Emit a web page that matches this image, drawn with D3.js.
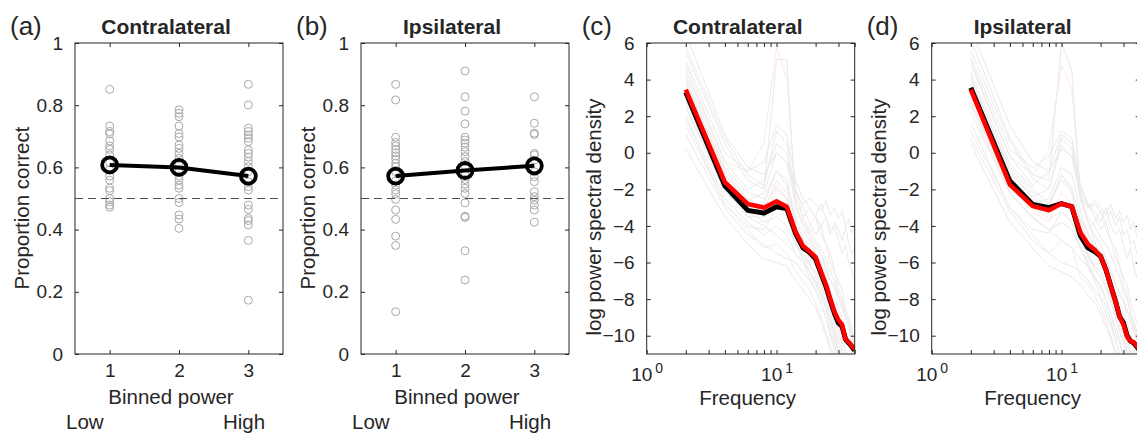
<!DOCTYPE html>
<html>
<head>
<meta charset="utf-8">
<script src="https://cdn.jsdelivr.net/npm/d3@7"></script>
<style>
  body { margin: 0; background: #fff; }
  text { font-family: "Liberation Sans", Arial, Helvetica, sans-serif; fill: #262626; }
</style>
</head>
<body>
<svg id="fig" width="1137" height="434"></svg>
<script>

      // ---- data ----
      var bins = [1, 2, 3];
      var binLabels = ["Low", "High"];

      var contraScatter = [
        [0.851, 0.733, 0.715, 0.708, 0.685, 0.669, 0.658, 0.640, 0.615, 0.592, 0.572, 0.559, 0.533, 0.525, 0.500, 0.490, 0.479, 0.472],
        [0.785, 0.774, 0.763, 0.733, 0.709, 0.698, 0.672, 0.661, 0.645, 0.629, 0.613, 0.586, 0.572, 0.559, 0.543, 0.533, 0.500, 0.487, 0.447, 0.434, 0.404],
        [0.867, 0.801, 0.726, 0.715, 0.704, 0.694, 0.683, 0.656, 0.645, 0.633, 0.619, 0.602, 0.586, 0.554, 0.538, 0.527, 0.479, 0.465, 0.436, 0.429, 0.415, 0.365, 0.173]
      ];
      var contraMean = [0.608, 0.600, 0.572];

      var ipsiScatter = [
        [0.867, 0.817, 0.697, 0.680, 0.669, 0.658, 0.647, 0.637, 0.626, 0.613, 0.602, 0.586, 0.557, 0.543, 0.527, 0.515, 0.497, 0.463, 0.433, 0.379, 0.349, 0.136],
        [0.910, 0.827, 0.781, 0.740, 0.697, 0.688, 0.678, 0.665, 0.651, 0.635, 0.619, 0.605, 0.576, 0.561, 0.546, 0.533, 0.516, 0.486, 0.443, 0.439, 0.332, 0.238],
        [0.827, 0.742, 0.710, 0.706, 0.645, 0.640, 0.624, 0.586, 0.570, 0.554, 0.522, 0.506, 0.495, 0.479, 0.463, 0.424]
      ];
      var ipsiMean = [0.572, 0.590, 0.605];

      var propTicks = [0, 0.2, 0.4, 0.6, 0.8, 1];
      var chance = 0.5;

      var freqs = [2, 4, 6, 8, 10, 12, 14, 16, 18, 20, 22, 24, 26, 28, 30, 32, 34, 36, 38, 40];
      var freqTicks = [1, 2, 3, 4, 5, 6, 7, 8, 9, 10, 20, 30, 40];
      var psdTicks = [-10, -8, -6, -4, -2, 0, 2, 4, 6];

      var contraBlack = [3.30, -1.80, -3.15, -3.30, -2.95, -3.05, -4.40, -5.20, -5.45, -5.80, -6.60, -7.30, -8.10, -8.80, -9.30, -9.50, -10.20, -10.40, -10.60, -10.80];
      var contraRed   = [3.45, -1.60, -2.80, -3.00, -2.65, -2.95, -4.30, -5.10, -5.40, -5.70, -6.50, -7.20, -8.00, -8.70, -9.15, -9.40, -10.20, -10.35, -10.55, -10.75];
      var ipsiBlack   = [3.55, -1.55, -2.83, -3.00, -2.78, -2.95, -4.55, -5.20, -5.40, -5.66, -6.40, -7.30, -8.10, -8.95, -9.30, -10.00, -10.30, -10.40, -10.60, -10.80];
      var ipsiRed     = [3.45, -1.74, -2.92, -3.14, -2.78, -2.95, -4.37, -5.00, -5.30, -5.66, -6.40, -7.30, -8.10, -8.95, -9.40, -10.05, -10.30, -10.35, -10.55, -10.75];

      // single subjects (faint)
      var contraGray = [
        [5.5, 0.5, -1.5, -2.0, 5.1, 5.1, -3.0, -4.0, -4.5, -5.0, -5.5, -6.5, -7.0, -7.5, -8.0, -8.5, -9.0, -9.5, -10.0, -10.5],
        [4.5, -0.5, -2.0, -1.5, 0.5, 0.0, -2.5, -3.5, -3.0, -3.5, -4.0, -3.5, -4.5, -3.8, -4.2, -4.8, -4.0, -5.0, -5.5, -5.2],
        [2.0, -2.5, -3.8, -4.5, -4.0, -4.5, -5.5, -6.0, -6.5, -7.0, -7.8, -8.5, -9.2, -10.0, -10.8, -11.5, -12.0, -12.5, -13.0, -13.5],
        [3.0, -1.5, -3.0, -2.8, -1.0, -1.5, -3.5, -4.8, -5.0, -5.5, -6.0, -6.8, -7.5, -8.0, -8.5, -9.0, -9.8, -10.2, -10.8, -11.2],
        [1.0, -3.0, -4.5, -5.0, -5.5, -5.8, -6.0, -6.5, -7.0, -7.5, -8.2, -9.0, -9.8, -10.5, -11.2, -12.0, -12.5, -13.0, -13.5, -14.0],
        [5.0, 0.0, -1.0, -0.5, 1.5, 1.0, -1.5, -2.5, -3.0, -3.5, -2.8, -3.6, -4.2, -4.0, -4.8, -5.5, -5.0, -6.0, -6.5, -7.0],
        [3.8, -1.0, -2.5, -3.5, -3.0, -3.2, -4.0, -5.0, -5.8, -6.2, -6.8, -7.5, -8.5, -9.2, -9.8, -10.5, -11.0, -11.5, -12.0, -12.5],
        [0.2, -3.5, -5.0, -5.8, -6.0, -6.2, -7.0, -7.5, -8.0, -8.5, -9.2, -10.0, -10.8, -11.5, -12.0, -12.5, -13.0, -13.5, -14.0, -14.5],
        [6.5, 1.0, -0.8, -1.2, 0.0, -0.5, -2.0, -3.0, -3.8, -4.5, -4.0, -5.0, -5.5, -6.5, -7.0, -7.5, -8.5, -9.0, -9.5, -10.0],
        [2.5, -2.2, -3.2, -3.0, -1.8, -2.5, -4.8, -5.8, -6.0, -6.8, -7.5, -8.2, -9.0, -9.8, -10.5, -11.0, -11.5, -12.0, -12.5, -13.0],
        [4.2, -0.8, -2.2, -2.5, -1.0, -1.8, -3.8, -4.2, -4.8, -5.2, -5.5, -6.2, -7.0, -7.2, -7.8, -8.2, -8.8, -9.2, -9.8, -10.2],
        [3.4, -1.8, -3.2, -3.8, -3.5, -4.0, -5.0, -5.5, -6.2, -6.5, -7.2, -8.0, -8.8, -9.5, -10.2, -10.8, -11.5, -12.0, -12.5, -13.0],
        [5.8, 0.8, -1.2, -1.8, 1.2, 0.5, -2.2, -2.8, -2.5, -2.8, -3.2, -2.6, -3.4, -3.0, -3.6, -3.2, -4.0, -3.6, -4.4, -4.0],
        [1.8, -2.8, -4.0, -4.2, -3.0, -3.5, -5.0, -5.8, -6.5, -7.2, -7.8, -8.5, -9.5, -10.2, -11.0, -11.8, -12.5, -13.0, -13.5, -14.0],
        [4.0, -1.2, -2.6, -2.2, 0.0, -0.5, -2.8, -3.8, -4.2, -4.8, -5.2, -5.8, -6.5, -7.0, -7.8, -8.2, -9.0, -9.5, -10.0, -10.8],
        [2.8, -2.0, -3.5, -4.0, -4.5, -5.0, -5.5, -6.0, -6.8, -7.5, -8.2, -9.0, -10.0, -10.8, -11.5, -12.0, -12.5, -13.0, -13.5, -14.0]
      ];
      var contraPink = [
        [4.8, -0.5, -1.0, 0.5, 5.8, 4.0, -2.0, -3.5, -4.5, -5.5, -6.0, -7.0, -8.0, -8.5, -9.0, -9.5, -10.0, -10.5, -11.0, -11.5],
        [2.5, -2.0, -3.5, -3.5, -2.0, -2.5, -4.5, -5.5, -6.0, -5.8, -6.5, -7.2, -8.0, -8.8, -9.5, -10.2, -10.8, -11.3, -11.8, -12.3],
        [3.5, -1.2, -2.8, -3.2, -1.5, -2.2, -4.0, -4.5, -4.0, -3.5, -4.5, -5.0, -6.0, -6.5, -7.5, -8.0, -9.0, -9.5, -10.5, -11.0],
        [1.5, -2.8, -4.2, -5.2, -5.0, -5.5, -6.5, -7.0, -7.5, -8.2, -9.0, -9.8, -10.5, -11.2, -12.0, -12.5, -13.0, -13.5, -14.0, -14.5]
      ];
      var ipsiGray = [
        [6.2, 0.8, -1.2, -1.5, 6.0, 4.5, -2.5, -3.8, -4.5, -5.0, -5.8, -6.5, -7.2, -7.8, -8.2, -8.8, -9.2, -9.8, -10.2, -10.8],
        [4.8, -0.2, -1.8, -1.0, 1.0, 0.5, -2.0, -3.0, -2.8, -3.2, -3.8, -3.2, -4.0, -3.5, -4.5, -4.2, -5.0, -4.8, -5.5, -6.0],
        [2.2, -2.2, -3.5, -4.2, -3.8, -4.2, -5.2, -6.2, -6.8, -7.2, -8.0, -8.8, -9.5, -10.2, -11.0, -11.8, -12.2, -12.8, -13.2, -13.8],
        [3.2, -1.2, -2.8, -2.5, -0.8, -1.2, -3.2, -4.5, -5.2, -5.8, -6.2, -7.0, -7.8, -8.2, -8.8, -9.2, -10.0, -10.5, -11.0, -11.5],
        [0.8, -3.2, -4.8, -5.5, -6.0, -6.2, -6.5, -7.0, -7.5, -8.0, -8.8, -9.5, -10.2, -11.0, -11.8, -12.2, -12.8, -13.2, -13.8, -14.2],
        [5.2, 0.2, -0.8, -0.2, 1.2, 0.8, -1.8, -2.8, -3.2, -3.8, -3.0, -4.0, -4.5, -4.2, -5.0, -5.8, -5.2, -6.2, -6.8, -7.2],
        [4.0, -0.8, -2.2, -3.2, -2.8, -3.0, -3.8, -4.8, -5.5, -6.0, -6.5, -7.2, -8.2, -9.0, -9.5, -10.2, -10.8, -11.2, -11.8, -12.2],
        [0.5, -3.8, -5.2, -6.2, -6.5, -6.8, -7.2, -7.8, -8.2, -8.8, -9.5, -10.2, -11.0, -11.8, -12.2, -12.8, -13.2, -13.8, -14.2, -14.8],
        [6.8, 1.5, -0.5, -1.0, 0.2, -0.2, -1.8, -2.8, -3.5, -4.2, -3.8, -4.8, -5.2, -6.2, -6.8, -7.2, -8.2, -8.8, -9.2, -9.8],
        [2.8, -2.0, -3.0, -2.8, -1.5, -2.2, -4.5, -5.5, -6.2, -6.5, -7.2, -8.0, -8.8, -9.5, -10.2, -10.8, -11.2, -11.8, -12.2, -12.8],
        [4.4, -0.6, -2.0, -2.8, -1.2, -2.0, -3.6, -4.4, -5.0, -5.4, -5.8, -6.4, -7.2, -7.6, -8.0, -8.6, -9.0, -9.6, -10.0, -10.6],
        [3.6, -1.6, -3.0, -3.6, -3.2, -3.8, -4.8, -5.6, -6.4, -6.8, -7.4, -8.2, -9.0, -9.8, -10.4, -11.0, -11.6, -12.2, -12.6, -13.2],
        [5.6, 0.6, -1.4, -2.0, 0.8, 0.2, -2.4, -3.0, -2.6, -3.0, -3.4, -2.8, -3.6, -3.2, -3.8, -3.4, -4.2, -3.8, -4.6, -4.2],
        [1.6, -3.0, -4.2, -4.4, -3.2, -3.8, -5.2, -6.0, -6.8, -7.4, -8.0, -8.8, -9.8, -10.4, -11.2, -12.0, -12.6, -13.2, -13.6, -14.2],
        [4.2, -1.0, -2.4, -2.0, 0.4, -0.2, -2.6, -3.6, -4.0, -4.6, -5.0, -5.6, -6.2, -6.8, -7.6, -8.0, -8.8, -9.2, -9.8, -10.6],
        [2.6, -2.2, -3.6, -4.2, -4.8, -5.2, -5.8, -6.2, -7.0, -7.8, -8.4, -9.2, -10.2, -11.0, -11.6, -12.2, -12.6, -13.2, -13.6, -14.2]
      ];
      var ipsiPink = [
        [5.0, -0.2, -1.2, 0.2, 4.8, 3.5, -2.2, -3.8, -4.8, -5.8, -6.2, -7.2, -8.2, -8.8, -9.2, -9.8, -10.2, -10.8, -11.2, -11.8],
        [2.8, -1.8, -3.2, -3.8, -2.2, -2.8, -4.8, -5.8, -6.2, -6.0, -6.8, -7.5, -8.2, -9.0, -9.8, -10.5, -11.0, -11.5, -12.0, -12.5],
        [3.8, -1.0, -2.5, -3.0, -1.2, -2.0, -3.8, -4.2, -3.8, -3.2, -4.2, -4.8, -5.8, -6.2, -7.2, -7.8, -8.8, -9.2, -10.2, -10.8],
        [1.2, -3.0, -4.5, -5.5, -4.8, -5.2, -6.8, -7.2, -7.8, -8.5, -9.2, -10.0, -10.8, -11.5, -12.2, -12.8, -13.2, -13.8, -14.2, -14.8]
      ];

      // ---- layout ----
      var plotTop = 43, plotH = 311, plotW = 208;
      var tickFont = 19, labelFont = 20.5;
      var axisColor = "#262626";

      var svg = d3.select("#fig");
      var defs = svg.append("defs");

      function styleAxis(g) {
        g.attr("color", axisColor)
         .attr("font-size", tickFont)
         .attr("font-family", "'Liberation Sans', Arial, Helvetica, sans-serif");
        g.select(".domain").remove();
        g.selectAll(".tick line").attr("stroke-width", 1);
      }

      // draws the box, inward ticks on all four sides
      function drawFrame(g, xScale, yScale, xTicks, yTicks, xFormat) {
        var bottom = g.append("g").attr("transform", "translate(0," + plotH + ")")
            .call(d3.axisBottom(xScale).tickValues(xTicks).tickFormat(xFormat)
                  .tickSize(-4).tickSizeOuter(0).tickPadding(10));
        styleAxis(bottom);
        g.append("g")
            .call(d3.axisTop(xScale).tickValues(xTicks).tickSize(-4).tickSizeOuter(0).tickFormat(""))
            .call(styleAxis);
        var left = g.append("g")
            .call(d3.axisLeft(yScale).tickValues(yTicks).tickSize(-4).tickSizeOuter(0).tickPadding(12));
        styleAxis(left);
        g.append("g").attr("transform", "translate(" + plotW + ",0)")
            .call(d3.axisRight(yScale).tickValues(yTicks).tickSize(-4).tickSizeOuter(0).tickFormat(""))
            .call(styleAxis);
        g.append("rect")
            .attr("width", plotW).attr("height", plotH)
            .attr("fill", "none").attr("stroke", axisColor).attr("stroke-width", 1);
        return {bottom: bottom, left: left};
      }

      function addHeadings(x0, letter, title, ylabel, yCenter) {
        svg.append("text").attr("x", x0 - 65).attr("y", 35)
            .attr("font-size", 26).text(letter);
        svg.append("text").attr("x", x0 + plotW / 2 - 13).attr("y", 34)
            .attr("text-anchor", "middle").attr("font-size", 21).attr("font-weight", "bold")
            .text(title);
        svg.append("text")
            .attr("transform", "translate(" + (x0 - 46) + "," + yCenter + ") rotate(-90)")
            .attr("text-anchor", "middle").attr("font-size", labelFont)
            .text(ylabel);
      }

      function drawProportion(x0, letter, title, scatter, means) {
        var g = svg.append("g").attr("transform", "translate(" + x0 + "," + plotTop + ")");
        var x = d3.scaleLinear().domain([0.5, 3.5]).range([0, plotW]);
        var y = d3.scaleLinear().domain([0, 1]).range([plotH, 0]);

        // individual subjects
        scatter.forEach(function(vals, i) {
          g.append("g").selectAll("circle")
            .data(vals).enter().append("circle")
            .attr("cx", x(bins[i]))
            .attr("cy", function(d) { return y(d); })
            .attr("r", 4)
            .attr("fill", "none")
            .attr("stroke", "#a9a9a9")
            .attr("stroke-width", 1);
        });

        // chance level
        g.append("line")
            .attr("x1", 0).attr("x2", plotW)
            .attr("y1", y(chance)).attr("y2", y(chance))
            .attr("stroke", "#4d4d4d").attr("stroke-width", 1.2)
            .attr("stroke-dasharray", "8,5");

        var axes = drawFrame(g, x, y, bins, propTicks, d3.format("d"));
        axes.left.selectAll("text").text(function(d) { return d === 0 || d === 1 ? d : d3.format(".1f")(d); });

        // group mean
        var line = d3.line().x(function(d, i) { return x(bins[i]); }).y(function(d) { return y(d); });
        g.append("path").datum(means)
            .attr("d", line).attr("fill", "none")
            .attr("stroke", "#000").attr("stroke-width", 4);
        g.selectAll(".mean").data(means).enter().append("circle")
            .attr("class", "mean")
            .attr("cx", function(d, i) { return x(bins[i]); })
            .attr("cy", function(d) { return y(d); })
            .attr("r", 7.5).attr("fill", "none")
            .attr("stroke", "#000").attr("stroke-width", 3.8);

        svg.append("text").attr("x", x0 + plotW / 2 - 8).attr("y", 404)
            .attr("text-anchor", "middle").attr("font-size", labelFont).text("Binned power");
        svg.append("text").attr("x", x0 - 9).attr("y", 429)
            .attr("font-size", labelFont).text(binLabels[0]);
        svg.append("text").attr("x", x0 + 148).attr("y", 429)
            .attr("font-size", labelFont).text(binLabels[1]);

        addHeadings(x0, letter, title, "Proportion correct", 208);
      }

      function drawSpectrum(x0, letter, title, gray, pink, black, red, clipId) {
        var g = svg.append("g").attr("transform", "translate(" + x0 + "," + plotTop + ")");
        var x = d3.scaleLog().domain([1, 40]).range([0, plotW]);
        var y = d3.scaleLinear().domain([-11, 6]).range([plotH, 0]);

        defs.append("clipPath").attr("id", clipId)
            .append("rect").attr("width", plotW).attr("height", plotH);

        var line = d3.line()
            .x(function(d, i) { return x(freqs[i]); })
            .y(function(d) { return y(d); });

        var lines = g.append("g").attr("clip-path", "url(#" + clipId + ")");
        lines.selectAll(".pink").data(pink).enter().append("path")
            .attr("class", "pink").attr("d", line).attr("fill", "none")
            .attr("stroke", "#fce6e6").attr("stroke-width", 1);
        lines.selectAll(".gray").data(gray).enter().append("path")
            .attr("class", "gray").attr("d", line).attr("fill", "none")
            .attr("stroke", "#e9e9e9").attr("stroke-width", 1);

        var axes = drawFrame(g, x, y, freqTicks, psdTicks, null);
        axes.bottom.selectAll(".tick text").each(function(d) {
          var t = d3.select(this).text("");
          if (d === 1 || d === 10) {
            t.append("tspan").text("10");
            t.append("tspan").attr("dy", "-0.55em").attr("font-size", 14).attr("dx", 3)
              .text(d === 1 ? "0" : "1");
          }
        });
        axes.bottom.selectAll(".tick text").attr("dy", "0.9em");

        lines.append("path").datum(black)
            .attr("d", line).attr("fill", "none")
            .attr("stroke", "#000").attr("stroke-width", 5).attr("stroke-linejoin", "round");
        lines.append("path").datum(red)
            .attr("d", line).attr("fill", "none")
            .attr("stroke", "#ff0000").attr("stroke-width", 4.5).attr("stroke-linejoin", "round");

        svg.append("text").attr("x", x0 + plotW / 2 - 3).attr("y", 405)
            .attr("text-anchor", "middle").attr("font-size", labelFont).text("Frequency");

        addHeadings(x0, letter, title, "log power spectral density", 217);
      }

      drawProportion(75, "(a)", "Contralateral", contraScatter, contraMean);
      drawProportion(361, "(b)", "Ipsilateral", ipsiScatter, ipsiMean);
      drawSpectrum(646.7, "(c)", "Contralateral", contraGray, contraPink, contraBlack, contraRed, "clipC");
      drawSpectrum(931.7, "(d)", "Ipsilateral", ipsiGray, ipsiPink, ipsiBlack, ipsiRed, "clipD");

</script>
</body>
</html>
